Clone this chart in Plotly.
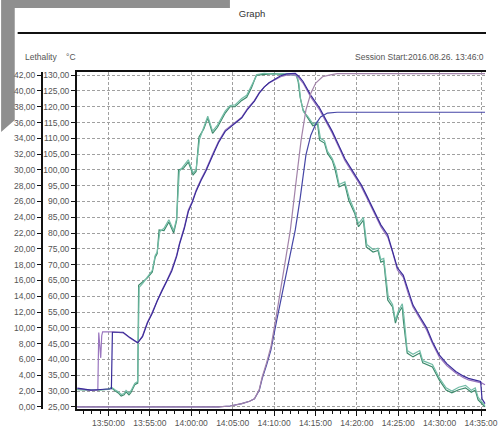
import plotly.graph_objects as go
import pandas as pd

START = pd.Timestamp("2016-08-26 13:46:00")

# ---- data (minutes after 13:46:00) ----
prod_a_t = [0.24,1.06,1.88,2.59,2.71,2.82,2.94,3.06,3.18,3.29,4.59,5.76,6.59,7.53,8.11,8.70,9.29,9.88,10.46,11.05,
            11.64,12.23,12.58,13.17,13.64,14.11,14.58,15.16,15.75,16.57,17.28,18.10,19.04,20.10,20.80,21.63,22.21,22.80,23.39,23.98,
            24.80,25.50,26.56,27.03,27.50,28.44,29.50,30.32,31.03,31.85,32.55,33.38,33.96,34.55,35.14,35.73,36.32,36.90,37.73,38.31,
            38.90,39.61,40.19,40.78,41.60,42.43,43.13,43.95,44.89,45.95,46.89,47.48,48.65,49.12,49.48]
prod_a_T = [30.8,30.6,30.2,30.3,30.3,48.5,44.0,40.5,47.5,48.7,48.7,48.4,46.8,45.2,47.5,51.8,55.0,58.8,62.0,65.0,
            68.5,73.0,76.8,82.0,87.3,90.0,93.6,97.0,100.0,105.0,109.0,112.6,114.5,116.7,119.5,122.0,124.5,126.2,127.5,128.4,
            129.5,130.0,130.2,129.0,127.5,123.0,119.0,115.0,111.6,107.0,103.0,99.5,97.0,94.6,91.5,88.2,85.0,82.0,78.7,74.0,
            68.3,66.0,61.0,56.6,53.0,49.3,45.0,40.8,38.0,35.7,34.2,33.5,32.8,32.5,32.0]

prod_b_t = [0.24,1.06,1.88,2.59,3.29,4.00,4.35,4.47,5.76,6.59,7.53,8.11,8.70,9.29,9.88,10.46,11.05,11.64,12.23,12.58,
            13.17,13.64,14.11,14.58,15.16,15.75,16.57,17.28,18.10,19.04,20.10,20.80,21.63,22.21,22.80,23.39,23.98,24.80,25.50,26.56,
            27.03,27.50,28.44,29.50,30.32,31.03,31.85,32.55,33.38,33.96,34.55,35.14,35.73,36.32,36.90,37.73,38.31,38.90,39.61,40.19,
            40.78,41.60,42.43,43.13,43.95,44.89,45.95,46.89,47.48,48.65,48.95,49.12,49.48]
prod_b_T = [30.9,30.5,30.3,30.4,30.5,30.6,30.7,48.6,48.6,46.9,45.3,47.2,51.5,54.6,58.5,61.7,64.8,68.0,72.6,76.5,
            81.6,86.8,89.7,93.2,96.6,99.6,104.5,108.6,112.2,114.2,116.5,119.2,121.8,124.3,126.2,127.6,128.6,129.8,130.4,130.6,
            129.5,128.0,123.6,119.6,115.6,112.2,107.6,103.6,100.1,97.6,95.2,92.1,88.8,85.6,82.6,79.4,74.6,69.0,66.6,61.6,
            57.2,53.6,50.0,45.6,41.4,38.6,36.2,34.7,34.0,33.2,33.0,27.5,26.0]

cham_a_t = [0.24,2.24,4.00,4.35,4.82,5.18,5.53,5.88,6.12,6.47,6.70,6.94,7.17,7.53,7.64,8.11,8.70,9.29,9.64,9.88,
            10.11,10.70,11.29,11.87,12.23,12.46,13.05,13.64,14.22,14.58,14.93,15.52,15.99,16.57,17.16,18.10,18.69,19.28,20.10,20.69,
            21.27,21.86,22.80,23.98,25.15,26.33,26.68,26.91,27.15,27.50,28.09,28.68,29.26,29.50,30.09,30.44,31.03,31.38,31.85,32.55,
            33.02,33.73,34.20,34.79,35.14,35.96,36.55,36.90,37.25,37.73,38.31,38.66,39.02,39.49,39.61,40.08,40.78,41.60,41.96,43.13,
            43.95,44.78,45.48,46.30,47.13,47.83,48.30,48.65,49.48]
cham_a_T = [30.5,30.2,30.6,31.0,30.0,29.4,28.4,28.8,29.7,28.8,29.5,31.0,32.0,32.5,63.5,64.5,65.8,67.7,72.4,73.5,
            81.0,80.8,83.5,80.0,84.0,100.0,100.5,102.5,98.4,99.5,110.4,113.0,116.4,111.6,113.5,118.0,120.0,120.0,122.0,123.0,
            126.0,130.0,130.3,130.5,130.2,130.3,130.0,128.0,123.0,119.0,116.4,114.0,114.5,109.4,108.5,105.3,103.0,100.0,94.6,95.5,
            90.4,86.3,82.0,84.1,75.6,74.0,74.5,70.8,71.2,58.8,56.6,51.5,54.7,56.6,52.5,42.0,40.8,42.0,38.9,37.6,
            33.5,30.3,29.4,30.4,31.0,29.6,30.3,27.2,25.0]

cham_b_t = [0.24,2.24,4.00,4.35,4.82,5.18,5.53,5.88,6.12,6.47,6.70,6.94,7.17,7.53,7.70,8.11,8.70,9.29,9.64,9.88,
            10.20,10.70,11.29,11.87,12.23,12.55,13.05,13.64,14.22,14.58,15.00,15.52,15.99,16.57,17.16,18.10,18.69,19.28,20.10,20.69,
            21.27,21.95,22.80,23.98,25.15,26.33,26.75,27.00,27.20,27.55,28.09,28.68,29.26,29.60,30.09,30.44,31.03,31.45,31.85,32.55,
            33.10,33.73,34.20,34.79,35.20,35.96,36.55,36.90,37.25,37.80,38.31,38.66,39.02,39.49,39.70,40.08,40.78,41.60,41.96,43.13,
            43.95,44.78,45.48,46.30,47.13,47.83,48.30,48.65,49.48]
cham_b_T = [30.4,30.3,30.5,31.2,30.3,29.8,28.9,29.2,30.2,29.3,30.0,31.4,32.4,33.0,62.8,64.0,66.2,68.2,72.9,74.0,
            80.5,81.5,84.2,80.8,84.6,99.5,101.2,103.2,99.0,100.2,109.8,113.6,117.0,112.3,114.2,118.6,120.4,120.6,122.6,123.6,
            126.6,130.2,130.6,130.3,130.5,130.1,129.8,127.4,122.4,118.4,116.9,114.6,115.2,110.0,109.2,106.0,103.6,100.6,95.4,96.2,
            91.0,87.0,83.0,85.0,76.4,74.8,75.2,71.6,72.0,59.6,57.4,52.4,55.4,57.6,53.3,42.8,41.6,42.8,39.6,38.4,
            34.2,31.0,30.0,31.2,31.8,30.2,31.0,28.0,25.4]

leth_a_t = [0.24,17.28,18.69,20.10,21.04,21.63,22.21,22.57,23.10,23.62,24.33,25.15,25.97,26.68,27.27,27.85,28.44,29.03,29.85,30.67,31.61,49.48]
leth_a_L = [0.0,0.0,0.1,0.4,0.7,1.0,2.2,3.8,5.6,7.6,11.9,16.9,22.4,28.7,33.8,37.6,39.7,41.0,41.8,42.0,42.2,42.2]

leth_b_t = [0.24,17.28,18.69,20.10,21.04,21.63,22.21,22.57,23.10,23.62,24.33,24.92,25.74,26.56,27.15,27.85,28.44,29.03,29.62,30.44,31.61,49.48]
leth_b_L = [0.0,0.0,0.1,0.4,0.7,1.0,2.1,3.6,5.3,7.2,11.0,14.0,18.5,22.4,26.4,31.9,34.4,35.8,36.7,37.2,37.3,37.3]

title_text = "Graph"
session_text = "Session Start:2016.08.26. 13:46:0"


def to_time(mins):
    return [START + pd.Timedelta(minutes=m) for m in mins]


W, H = 504, 435
ML, MR, MT, MB = 42, 6, 72, 26
PW, PH = W - ML - MR, H - MT - MB


def px(x):
    return (x - ML) / PW


def py(y):
    return (H - MB - y) / PH


FONT = "Liberation Sans, Arial, sans-serif"
FS = 8.5

fig = go.Figure()
series = [
    (cham_a_t, cham_a_T, "#3d8a6c", "y"),
    (cham_b_t, cham_b_T, "#72bca6", "y"),
    (prod_a_t, prod_a_T, "#9a76bf", "y"),
    (prod_b_t, prod_b_T, "#3a2c9a", "y"),
    (leth_b_t, leth_b_L, "#4646a6", "y2"),
    (leth_a_t, leth_a_L, "#a384aa", "y2"),
]
for t, v, c, ax in series:
    fig.add_trace(go.Scatter(x=to_time(t), y=v, mode="lines", yaxis=ax,
                             line=dict(color=c, width=1.2), showlegend=False, hoverinfo="skip"))

t_lo, t_hi = 0.2, 49.6
T_lo, T_hi = 24.3, 131.0
grid = dict(gridcolor="#a0a0a0", griddash="3px,2px", gridwidth=1)

fig.update_layout(
    width=W, height=H,
    margin=dict(l=ML, r=MR, t=MT, b=MB),
    paper_bgcolor="white", plot_bgcolor="white",
    separators=", ",
    font=dict(family=FONT, size=FS, color="#555"),
    title=dict(text=title_text, x=0.5, xanchor="center", y=1 - 14 / H, yanchor="middle",
               font=dict(family=FONT, size=9.5, color="#333")),
    xaxis=dict(domain=[px(78), 1], range=[START + pd.Timedelta(minutes=t_lo), START + pd.Timedelta(minutes=t_hi)],
               type="date", tick0="2016-08-26 13:50:00", dtick=300000, tickformat="%H:%M:%S",
               ticklabeloverflow="allow",
               showline=True, linecolor="#111", linewidth=2, mirror=True,
               ticks="outside", ticklen=5, tickcolor="#111", tickwidth=1,
               minor=dict(dtick=60000, tick0="2016-08-26 13:50:00", ticks="outside", ticklen=3, tickcolor="#111", showgrid=False),
               showgrid=True, zeroline=False, **grid),
    yaxis=dict(range=[T_lo, T_hi], tick0=25, dtick=5, tickformat=".2f",
               showline=True, linecolor="#111", linewidth=2, ticks="outside", ticklen=4, tickcolor="#111",
               showgrid=True, zeroline=False, **grid),
    yaxis2=dict(range=[(T_lo - 25) / 2.5, (T_hi - 25) / 2.5], tick0=0, dtick=2, tickformat=".2f",
                overlaying="y", side="left", anchor="free", position=0,
                showline=True, linecolor="#111", linewidth=2, ticks="outside", ticklen=4, tickcolor="#111",
                showgrid=False, zeroline=False),
)

fig.add_shape(type="path", xref="paper", yref="paper", layer="below",
              path=f"M {px(0)},{py(0)} L {px(235)},{py(0)} L {px(235)},{py(8)} L {px(14)},{py(8)} L {px(14)},{py(120)} L {px(0)},{py(132)} Z",
              fillcolor="#8f8f8f", line=dict(width=0))
fig.add_shape(type="line", xref="paper", yref="paper", x0=px(17), x1=px(498), y0=py(33), y1=py(33),
              line=dict(color="#111", width=2))

fig.add_annotation(text="Lethality", xref="paper", yref="paper", x=px(22), y=py(57), xanchor="left", yanchor="middle",
                   showarrow=False, font=dict(family=FONT, size=FS, color="#555"))
fig.add_annotation(text="°C", xref="paper", yref="paper", x=px(65), y=py(57), xanchor="left", yanchor="middle",
                   showarrow=False, font=dict(family=FONT, size=FS, color="#555"))
fig.add_annotation(text=session_text, xref="paper", yref="paper", x=px(498), y=py(57), xanchor="right", yanchor="middle",
                   showarrow=False, font=dict(family=FONT, size=FS, color="#555"))

fig.write_html("out.html", config={"displayModeBar": False},
               post_script="document.body.style.margin='0';document.body.style.overflow='hidden';")
